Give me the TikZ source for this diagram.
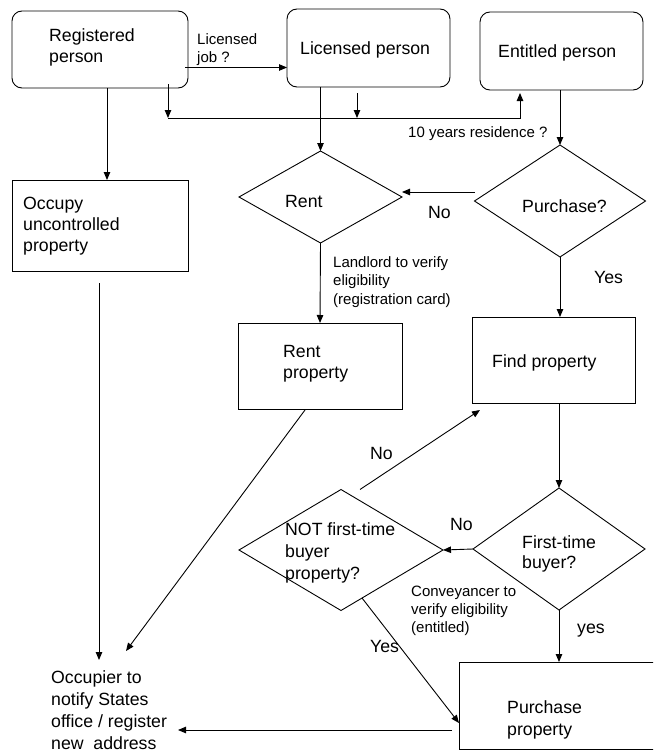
\documentclass[tikz,border=0pt]{standalone}
\usepackage{fontspec}
\setmainfont{Liberation Sans}
\usetikzlibrary{arrows.meta,shapes.geometric}
\begin{document}
\begin{tikzpicture}[x=1pt,y=-1pt,
  box/.style={draw, line width=0.9pt, inner sep=0pt, outer sep=0pt},
  rbox/.style={box, rounded corners=10pt},
  dia/.style={draw, diamond, line width=0.9pt, inner sep=0pt, outer sep=0pt},
  big/.style={font=\fontsize{17.7}{21}\selectfont, anchor=base west, inner sep=0pt},
  small/.style={font=\fontsize{15}{18}\selectfont, anchor=base west, inner sep=0pt},
  ln/.style={line width=0.9pt},
  arr/.style={line width=0.9pt, -{Triangle[length=8pt,width=6.5pt]}}]
\useasboundingbox (0,0) rectangle (653,752);
\fill[white] (0,0) rectangle (653,752);
\clip (0,0) rectangle (653,752);

% boxes
\node[rbox, minimum width=176, minimum height=77] (reg) at (100,49.5) {};
\node[rbox, minimum width=163, minimum height=78] (lic) at (368.5,48) {};
\node[rbox, minimum width=163, minimum height=78] (ent) at (561.5,51) {};
\node[box, minimum width=176, minimum height=91] (occ) at (100,225.5) {};
\node[box, minimum width=164, minimum height=86] (rentp) at (320,366) {};
\node[box, minimum width=163, minimum height=86] (find) at (553.5,360) {};
\node[box, minimum width=198, minimum height=87] (purp) at (558,705.5) {};

% diamonds
\node[dia, minimum width=163, minimum height=92] (rent) at (320.5,197) {};
\node[dia, minimum width=171, minimum height=112] (purch) at (560,201) {};
\node[dia, minimum width=172, minimum height=122] (ftb) at (559,549) {};
\node[dia, minimum width=204, minimum height=121] (notb) at (341,550) {};

% texts in shapes
\node[big] (t1) at (49,42) {Registered};
\node[big] (t2) at (49,63) {person};
\node[big] (t3) at (300,55) {Licensed person};
\node[big] (t4) at (498,58) {Entitled person};
\node[big] (t5) at (23,209) {Occupy};
\node[big] (t6) at (23,230) {uncontrolled};
\node[big] (t7) at (23,251) {property};
\node[big] (t8) at (285,207) {Rent};
\node[big] (t9) at (522,212) {Purchase?};
\node[big] (t10) at (283,357) {Rent};
\node[big] (t11) at (283,378) {property};
\node[big] (t12) at (492,367) {Find property};
\node[big] (t13) at (522,548) {First-time};
\node[big] (t14) at (522,568) {buyer?};
\node[big] (t15) at (285,535) {NOT first-time};
\node[big] (t16) at (285,557) {buyer};
\node[big] (t17) at (285,579) {property?};
\node[big] (t18) at (507,713) {Purchase};
\node[big] (t19) at (507,735) {property};
\node[big] (t20) at (51,683) {Occupier to};
\node[big] (t21) at (51,705) {notify States};
\node[big] (t22) at (51,727) {office / register};
\node[big] (t23) at (51,749) {new\ \ address};

% connector labels
\node[small] (l1) at (197,45) {Licensed};
\node[small] (l2) at (197,63) {job ?};
\node[small] (l3) at (408,137) {10 years residence ?};
\node[small] (l4) at (333,267) {Landlord to verify};
\node[small] (l5) at (333,285) {eligibility};
\node[small] (l6) at (333,304) {(registration card)};
\node[small] (l7) at (411,596) {Conveyancer to};
\node[small] (l8) at (411,614) {verify eligibility};
\node[small] (l9) at (411,632) {(entitled)};
\node[big] (n1) at (428,218) {No};
\node[big] (y1) at (594,283) {Yes};
\node[big] (n2) at (370,459) {No};
\node[big] (n3) at (450,530) {No};
\node[big] (y2) at (370,652) {Yes};
\node[big] (y3) at (577,633) {yes};

% junction coordinates
\coordinate (j1) at (168,118);
\coordinate (j2) at (357,118);
\coordinate (j3) at (520,118);
\coordinate (tipA) at (99,660);
\coordinate (tipB) at (126,651);
\coordinate (tipC) at (178,730);

% connectors
\draw[arr] ([xshift=7pt]reg.south) -- ([xshift=7pt]occ.north);
\draw[arr] ([xshift=-3pt,yshift=-18pt]reg.east) -- ([yshift=-18pt]reg.east -| lic.west);
\draw[arr] ([xshift=68pt,yshift=4pt]reg.south) -- (j1);
\draw[arr] ([xshift=-11.5pt,yshift=-6pt]lic.south) -- (j2);
\draw[arr] (j1) -- (j3) -- ([yshift=-3pt]j3 |- ent.south);
\draw[arr] (lic.south -| rent.north) -- (rent.north);
\draw[arr] (ent.south -| purch.north) -- (purch.north);
\draw[arr] ([yshift=9pt]purch.west) -- ([yshift=5pt]rent.east);
\draw[arr] (rent.south) -- (rentp.north);
\draw[arr] (purch.south) -- (purch.south |- find.north);
\draw[arr] (find.south -| ftb.north) -- (ftb.north);
\draw[arr] (ftb.west) -- (notb.east);
\draw[arr] ([xshift=19pt]notb.north) -- ([xshift=8pt,yshift=-7pt]find.south west);
\draw[arr] ([xshift=21pt,yshift=12.5pt]notb.south) -- ([yshift=-17.5pt]purp.west);
\draw[arr] (ftb.south) -- (ftb.south |- purp.north);
\draw[arr] ([xshift=-7pt,yshift=-24.5pt]purp.west) -- (tipC);
\draw[arr] ([xshift=-1pt,yshift=-12pt]occ.south) -- (tipA);
\draw[arr] ([xshift=-15pt,yshift=-1pt]rentp.south) -- (tipB);
\end{tikzpicture}
\end{document}
